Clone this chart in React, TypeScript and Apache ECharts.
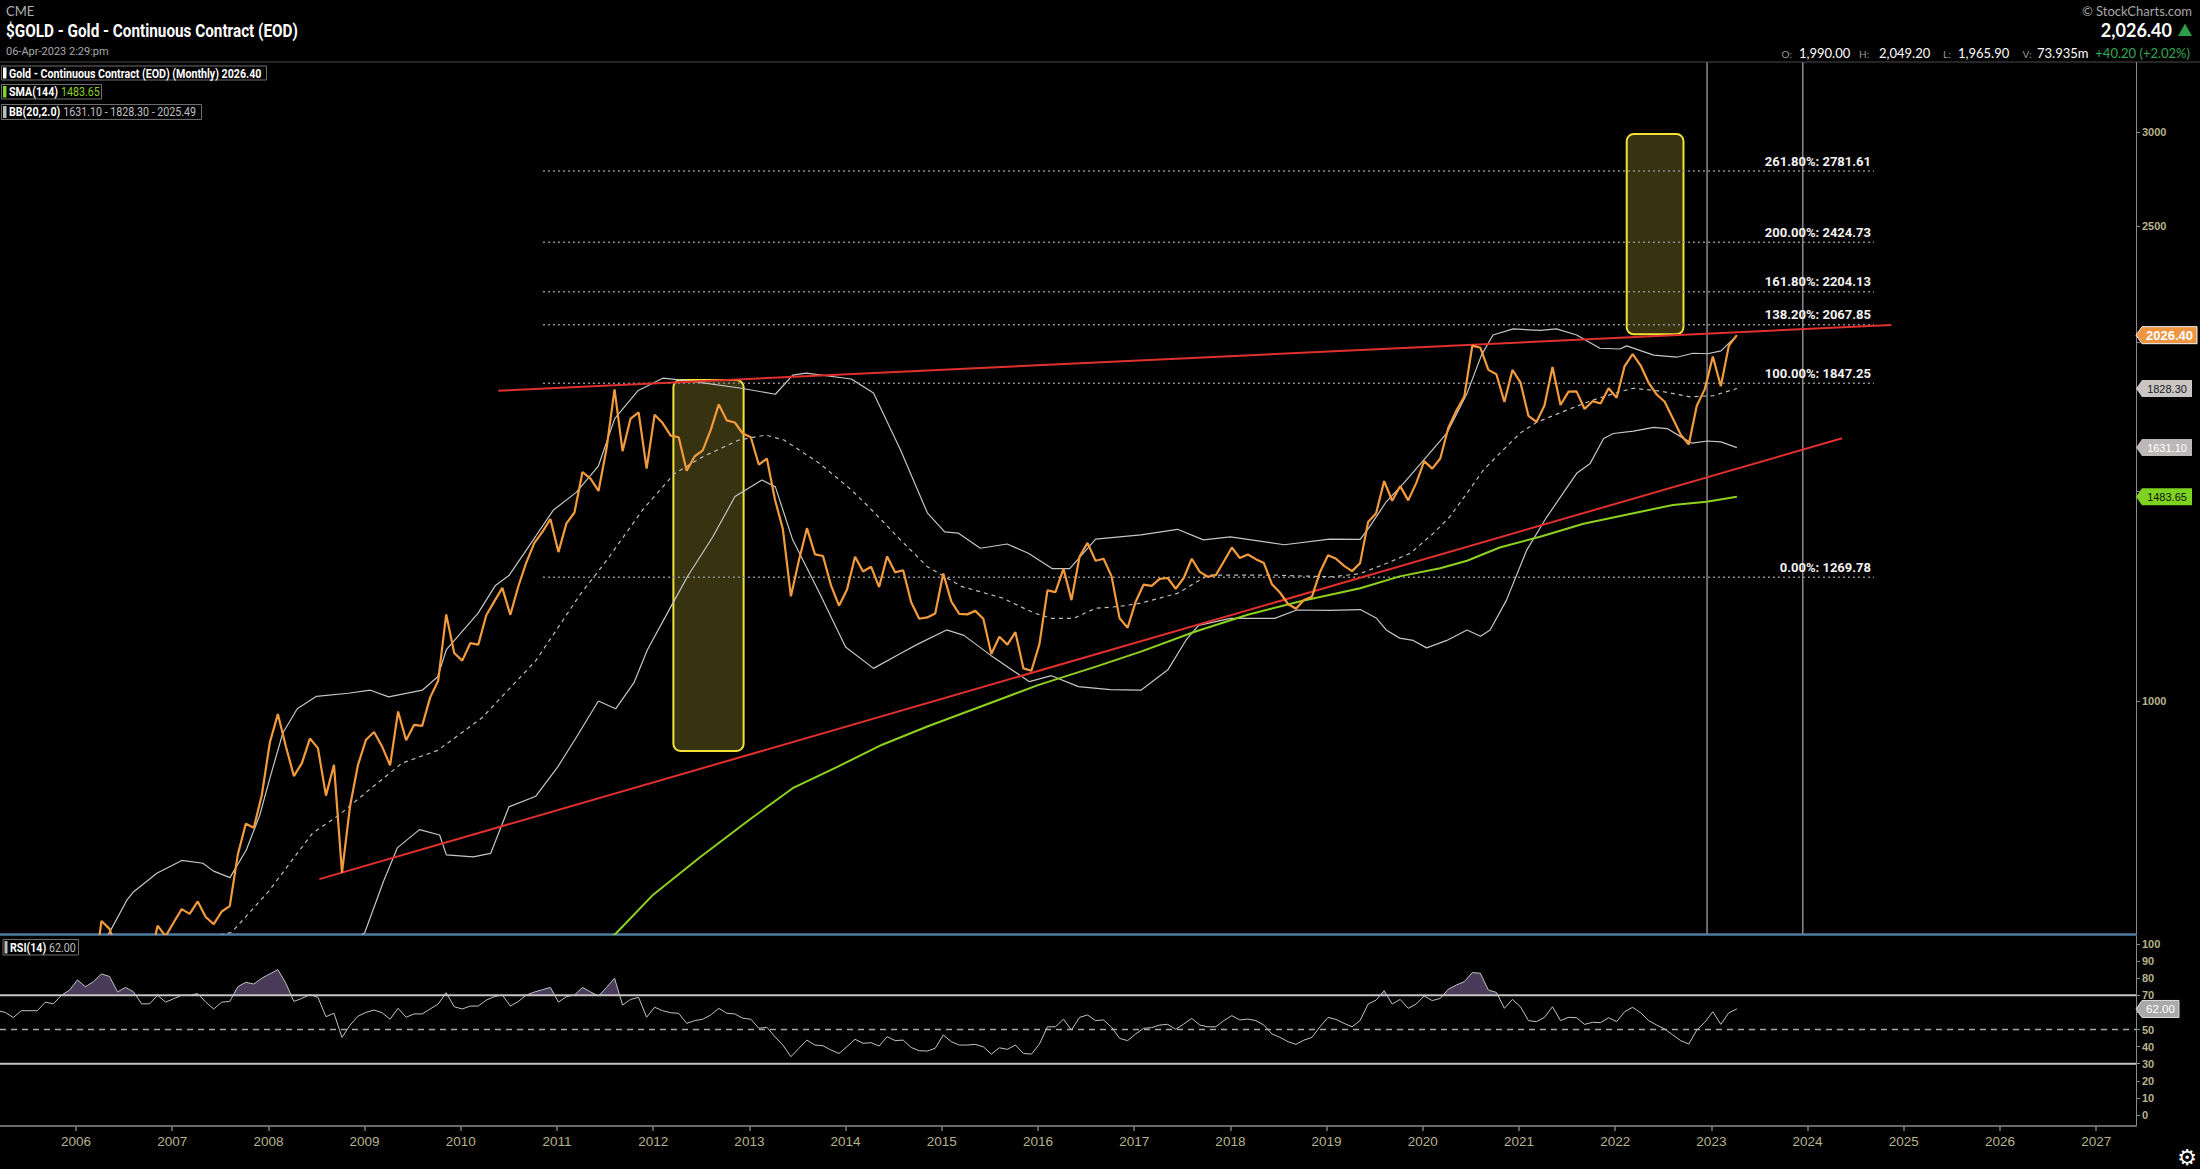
import React, { useEffect, useRef } from "react";
import * as echarts from "echarts";

// ---------- DATA (monthly, first point = March 2005) ----------
const FIRST_YEAR = 2005;
const FIRST_MONTH_INDEX = 2; // March
const MONTH_POINT_OFFSET = 0.015;

const GOLD_CLOSE = [
  // 2005 (Mar-Dec)
  429, 435, 417, 437, 429, 433, 473, 470, 495, 517,
  // 2006
  569, 556, 584, 654, 644, 616, 633, 624, 599, 604, 648, 635,
  // 2007
  652, 669, 663, 679, 659, 650, 666, 673, 743, 789, 783, 834,
  // 2008
  923, 975, 916, 865, 887, 930, 913, 833, 884, 718, 816, 884,
  // 2009
  928, 942, 916, 883, 980, 927, 955, 953, 1007, 1040, 1182, 1097,
  // 2010
  1081, 1118, 1115, 1180, 1212, 1244, 1181, 1248, 1307, 1357, 1386, 1421,
  // 2011
  1333, 1409, 1439, 1556, 1536, 1500, 1628, 1825, 1620, 1725, 1746, 1566,
  // 2012
  1738, 1710, 1669, 1664, 1560, 1604, 1622, 1688, 1773, 1719, 1712, 1676,
  // 2013
  1664, 1578, 1597, 1476, 1393, 1224, 1312, 1396, 1327, 1323, 1250, 1202,
  // 2014
  1240, 1321, 1284, 1296, 1246, 1322, 1282, 1287, 1210, 1172, 1175, 1184,
  // 2015
  1279, 1212, 1183, 1182, 1190, 1172, 1095, 1132, 1115, 1142, 1065, 1060,
  // 2016
  1116, 1238, 1234, 1291, 1215, 1321, 1357, 1311, 1316, 1272, 1173, 1152,
  // 2017
  1211, 1252, 1249, 1266, 1268, 1242, 1268, 1316, 1283, 1271, 1275, 1309,
  // 2018
  1345, 1318, 1327, 1315, 1305, 1253, 1233, 1206, 1195, 1215, 1223, 1283,
  // 2019
  1325, 1316, 1298, 1285, 1305, 1413, 1437, 1529, 1472, 1514, 1473, 1523,
  // 2020
  1589, 1566, 1597, 1694, 1751, 1800, 1986, 1978, 1895, 1879, 1781, 1895,
  // 2021
  1850, 1734, 1714, 1769, 1906, 1771, 1817, 1818, 1757, 1784, 1776, 1829,
  // 2022
  1796, 1909, 1954, 1911, 1848, 1807, 1782, 1726, 1672, 1641, 1768, 1826,
  // 2023 (Jan-Apr)
  1945, 1836, 1986, 2026.4,
];

const RSI_14 = [
  // 2005 (Mar-Dec)
  61, 60, 57, 61, 61, 61, 66, 65, 70, 73,
  // 2006
  79, 75, 78, 82.5, 81, 72, 74.6, 72, 65, 65, 70, 66,
  // 2007
  68, 70, 70, 71, 66, 62, 66, 66.4, 75, 77.6, 76.6, 80,
  // 2008
  82.5, 85, 77, 66.4, 68.2, 70.4, 68.8, 57.5, 59.5, 45.4, 52.5, 57.8,
  // 2009
  60, 61.4, 59.8, 56, 62.4, 57.2, 59.1, 59.1, 62, 64.9, 71.5, 63.3,
  // 2010
  62, 63.7, 63.7, 67.2, 69.2, 70.2, 63.7, 66.4, 70.2, 71.9, 73.3, 74.6,
  // 2011
  66, 69.2, 70.2, 74.6, 72, 69.6, 74.6, 80, 64.3, 67.6, 68.8, 57.2,
  // 2012
  63, 61, 59.8, 59.5, 53.6, 55.2, 56, 58.5, 62.4, 59.5, 59.1, 56.6,
  // 2013
  56, 50.7, 51.3, 45.8, 40.9, 34.1, 39, 43.8, 40.9, 40.5, 38, 36,
  // 2014
  40, 44.3, 41.9, 42.3, 40.3, 45.8, 43.5, 43.8, 39.5, 37.6, 37.4, 39,
  // 2015
  46.8, 42.9, 40.9, 40.9, 41.3, 39.9, 35.6, 39.3, 38.4, 40.9, 36, 35.6,
  // 2016
  41.5, 51.6, 51.6, 56, 49.7, 57.1, 58.5, 55.2, 55.6, 51.3, 44.8, 43.5,
  // 2017
  47.4, 50.7, 51.1, 52.6, 53, 50.1, 53.2, 56.5, 52.6, 51.6, 51.6, 55.2,
  // 2018
  58.1, 55.6, 56.1, 55.2, 52.6, 47.4, 45.4, 42.9, 41.3, 43.8, 45.4, 51.6,
  // 2019
  57.1, 55.9, 53.6, 51.6, 55.2, 64.9, 67.2, 72.7, 64.9, 67.6, 62.4, 64.9,
  // 2020
  69.6, 66.9, 68.2, 73.5, 76, 78, 83.3, 82.9, 73.1, 71.7, 62.4, 67.6,
  // 2021
  63.3, 55.2, 54.6, 57.1, 63.3, 55.2, 57.1, 56.9, 53, 54.2, 54, 56.9,
  // 2022
  54.6, 60.4, 63, 59.8, 55.2, 52.6, 50.3, 46.8, 43.5, 41.5, 49.7, 54.2,
  // 2023 (Jan-Apr)
  60.4, 53, 59.8, 62,
];

// Bollinger Bands (20, 2.0): [year, value]
const BB_UPPER = [
  [2006.0, 585], [2006.35, 640], [2006.53, 681], [2006.6, 692], [2006.84, 717], [2007.1, 735],
  [2007.32, 731], [2007.43, 720], [2007.6, 711], [2007.77, 750], [2007.91, 802], [2008.02, 864],
  [2008.15, 940], [2008.3, 985], [2008.5, 1009], [2008.83, 1015], [2009.06, 1021], [2009.25, 1008],
  [2009.6, 1021], [2009.76, 1048], [2009.85, 1104], [2010.18, 1185], [2010.36, 1250], [2010.5, 1274],
  [2010.78, 1375], [2010.96, 1445], [2011.2, 1496], [2011.43, 1574], [2011.6, 1725], [2011.84, 1820],
  [2012.1, 1865], [2012.3, 1858], [2012.52, 1848], [2012.9, 1830], [2013.27, 1808], [2013.45, 1876],
  [2013.59, 1883], [2014.06, 1862], [2014.29, 1812], [2014.57, 1624], [2014.85, 1438], [2015.03, 1386],
  [2015.17, 1383], [2015.4, 1343], [2015.68, 1354], [2015.9, 1330], [2016.15, 1291], [2016.33, 1291],
  [2016.6, 1367], [2017.07, 1378], [2017.45, 1393], [2017.72, 1365], [2018.0, 1373], [2018.56, 1352],
  [2019.03, 1367], [2019.35, 1366], [2019.45, 1401], [2019.62, 1469], [2019.8, 1522], [2020.04, 1603],
  [2020.25, 1677], [2020.46, 1811], [2020.61, 1950], [2020.73, 2027], [2020.94, 2051], [2021.22, 2045],
  [2021.39, 2051], [2021.6, 2027], [2021.84, 1976], [2022.05, 1973], [2022.12, 1985], [2022.4, 1950],
  [2022.64, 1942], [2022.81, 1957], [2022.96, 1955], [2023.1, 1966], [2023.265, 2025.49],
];

const BB_MIDDLE = [
  [2007.0, 630], [2007.5, 636], [2007.62, 640], [2008.0, 692], [2008.46, 775], [2008.74, 803],
  [2009.06, 844], [2009.39, 887], [2009.76, 909], [2010.22, 968], [2010.78, 1081], [2011.24, 1228],
  [2011.52, 1313], [2011.89, 1446], [2012.22, 1551], [2012.52, 1603], [2012.89, 1655], [2013.17, 1671],
  [2013.36, 1655], [2013.73, 1582], [2014.06, 1503], [2014.24, 1455], [2014.57, 1365], [2014.85, 1296],
  [2015.21, 1247], [2015.63, 1220], [2015.96, 1185], [2016.14, 1173], [2016.37, 1173], [2016.6, 1196],
  [2016.84, 1200], [2017.07, 1208], [2017.45, 1231], [2017.77, 1275], [2018.09, 1275], [2018.46, 1275],
  [2018.72, 1273], [2019.07, 1271], [2019.35, 1279], [2019.62, 1304], [2019.87, 1330], [2020.11, 1382],
  [2020.28, 1427], [2020.46, 1494], [2020.63, 1562], [2020.8, 1613], [2021.01, 1677], [2021.18, 1712],
  [2021.5, 1754], [2021.77, 1788], [2022.05, 1817], [2022.19, 1829], [2022.47, 1819], [2022.78, 1799],
  [2023.02, 1803], [2023.265, 1828.3],
];

const BB_LOWER = [
  [2008.5, 600], [2009.0, 639], [2009.2, 707], [2009.34, 753], [2009.57, 780], [2009.78, 772],
  [2009.85, 743], [2010.13, 740], [2010.31, 745], [2010.5, 815], [2010.78, 832], [2011.01, 881],
  [2011.2, 932], [2011.43, 1000], [2011.61, 985], [2011.8, 1036], [2011.94, 1104], [2012.17, 1194],
  [2012.36, 1273], [2012.62, 1373], [2012.85, 1484], [2013.13, 1532], [2013.27, 1512], [2013.45, 1365],
  [2013.73, 1231], [2014.0, 1110], [2014.29, 1065], [2014.57, 1096], [2014.75, 1116], [2015.05, 1147],
  [2015.23, 1135], [2015.51, 1092], [2015.91, 1038], [2016.14, 1050], [2016.42, 1028], [2016.75, 1022],
  [2017.07, 1021], [2017.35, 1062], [2017.54, 1125], [2017.67, 1157], [2018.0, 1173], [2018.46, 1173],
  [2018.69, 1192], [2019.03, 1191], [2019.35, 1193], [2019.52, 1173], [2019.62, 1147], [2019.76, 1129],
  [2019.9, 1124], [2020.04, 1108], [2020.25, 1124], [2020.46, 1147], [2020.6, 1133], [2020.7, 1147],
  [2020.87, 1215], [2021.08, 1338], [2021.29, 1427], [2021.6, 1552], [2021.74, 1582], [2021.88, 1660],
  [2021.98, 1676], [2022.19, 1684], [2022.4, 1696], [2022.54, 1692], [2022.68, 1666], [2022.8, 1645],
  [2022.96, 1652], [2023.1, 1649], [2023.265, 1631.1],
];

// SMA(144)
const SMA_144 = [
  [2011.3, 615], [2011.61, 638], [2012.0, 688], [2012.49, 740], [2013.0, 795], [2013.45, 845],
  [2013.92, 881], [2014.38, 919], [2014.85, 952], [2015.4, 989], [2016.0, 1031], [2016.61, 1069],
  [2017.07, 1100], [2017.63, 1143], [2018.18, 1181], [2018.74, 1213], [2019.35, 1243], [2019.76, 1272],
  [2020.18, 1292], [2020.46, 1311], [2020.8, 1345], [2021.22, 1373], [2021.67, 1408], [2022.19, 1437],
  [2022.6, 1460], [2022.95, 1469], [2023.265, 1483.65],
];

// Annotations
const FIB_LABELS = ["261.80%", "200.00%", "161.80%", "138.20%", "100.00%", "0.00%"];
const FIB_VALUES = [2781.61, 2424.73, 2204.13, 2067.85, 1847.25, 1269.78];
const FIB_SPAN = [2010.854, 2024.69];
const TREND_UPPER = [[2010.39, 1820], [2024.87, 2067]];
const TREND_LOWER = [[2008.53, 709], [2024.36, 1661]];
const HIGHLIGHT_BOXES = [
  [2012.21, 908, 2012.94, 1858],
  [2022.12, 2030, 2022.71, 2988],
];
const VERTICAL_MARKERS = [2022.955, 2023.95];

// Axes
const YEAR_TICKS = [2006, 2007, 2008, 2009, 2010, 2011, 2012, 2013, 2014, 2015, 2016, 2017, 2018, 2019, 2020, 2021, 2022, 2023, 2024, 2025, 2026, 2027];
const PRICE_TICKS = [1000, 1500, 2000, 2500, 3000];
const PRICE_LABELS = [1000, 2500, 3000];
const RSI_TICKS = [0, 10, 20, 30, 40, 50, 60, 70, 80, 90, 100];
const RSI_LABELS = [0, 10, 20, 30, 40, 50, 70, 80, 90, 100];
const RSI_OVERBOUGHT = 70;
const RSI_LEVELS = [70, 50, 30];

// ---------- LAYOUT ----------
const W = 2200;
const H = 1169;
const PLOT_W = 2136;
const MAIN_TOP = 62;
const MAIN_H = 872;
const RSI_TOP = 936;
const RSI_H = 190;
const X_MIN = 2005.21;
const X_MAX = 2027.414;
const LOG_MIN = 2.8046;
const LOG_MAX = 3.5358;
const RSI_MIN = -6.43;
const RSI_MAX = 104.68;

const AXIS_TEXT = "#b5b38c";
const lg = (v: number) => Math.log10(v);
const monthX = (i: number) => FIRST_YEAR + (FIRST_MONTH_INDEX + i) / 12 + MONTH_POINT_OFFSET;
const logPairs = (arr: number[][]) => arr.map((p) => [p[0], lg(p[1])]);
const last = (arr: any[]) => arr[arr.length - 1];

function mainLine(name: string, data: number[][], lineStyle: any, z = 2): any {
  return {
    type: "line",
    name,
    xAxisIndex: 0,
    yAxisIndex: 0,
    showSymbol: false,
    symbol: "none",
    silent: true,
    clip: true,
    z,
    data,
    lineStyle,
  };
}

function rsiLine(name: string, data: number[][], lineStyle: any, z = 2): any {
  return {
    type: "line",
    name,
    xAxisIndex: 1,
    yAxisIndex: 1,
    showSymbol: false,
    symbol: "none",
    silent: true,
    clip: true,
    z,
    data,
    lineStyle,
  };
}

function buildOption(): any {
  const series: any[] = [];

  FIB_VALUES.forEach((v, i) => {
    series.push(
      mainLine(`Fib ${FIB_LABELS[i]}`, [[FIB_SPAN[0], lg(v)], [FIB_SPAN[1], lg(v)]], { color: "#8d8d8d", width: 1.5, type: [2, 3] }, 2)
    );
  });
  VERTICAL_MARKERS.forEach((x, i) => {
    series.push(mainLine(`Marker ${i + 1}`, [[x, LOG_MIN], [x, LOG_MAX]], { color: "#8a8a8a", width: 1.5 }, 3));
  });
  series.push(mainLine("BB upper", logPairs(BB_UPPER), { color: "#c6c6c6", width: 1.2 }, 4));
  series.push(mainLine("BB middle", logPairs(BB_MIDDLE), { color: "#bdbdbd", width: 1.2, type: [4, 4] }, 4));
  series.push(mainLine("BB lower", logPairs(BB_LOWER), { color: "#c6c6c6", width: 1.2 }, 4));
  series.push(mainLine("SMA(144)", logPairs(SMA_144), { color: "#8fd11f", width: 2 }, 5));
  series.push(mainLine("Trend upper", logPairs(TREND_UPPER), { color: "#e0302e", width: 2 }, 6));
  series.push(mainLine("Trend lower", logPairs(TREND_LOWER), { color: "#e0302e", width: 2 }, 6));
  series.push(mainLine("Gold", GOLD_CLOSE.map((v, i) => [monthX(i), lg(v)]), { color: "#f29b3c", width: 2.2 }, 7));

  RSI_LEVELS.forEach((lvl) => {
    series.push(
      rsiLine(
        `RSI ${lvl}`,
        [[X_MIN, lvl], [X_MAX, lvl]],
        lvl === 50 ? { color: "#a8a8a8", width: 1.5, type: [6, 5] } : { color: "#c4c4c4", width: 2 },
        2
      )
    );
  });
  series.push(rsiLine("RSI(14)", RSI_14.map((v, i) => [monthX(i), v]), { color: "#c2c2c2", width: 1 }, 3));

  return {
    animation: false,
    backgroundColor: "#000000",
    textStyle: { fontFamily: "Liberation Sans" },
    grid: [
      { left: 0, top: MAIN_TOP, width: PLOT_W, height: MAIN_H },
      { left: 0, top: RSI_TOP, width: PLOT_W, height: RSI_H },
    ],
    xAxis: [
      {
        type: "value",
        gridIndex: 0,
        min: X_MIN,
        max: X_MAX,
        axisLine: { show: true, onZero: false, lineStyle: { color: "#4d7ba3", width: 2.5 } },
        axisTick: { show: false },
        axisLabel: { show: false },
        splitLine: { show: false },
      },
      {
        type: "value",
        gridIndex: 1,
        min: X_MIN,
        max: X_MAX,
        axisLine: { show: true, onZero: false, lineStyle: { color: "#6a6a6a", width: 2 } },
        axisTick: { show: true, customValues: YEAR_TICKS, length: 5, lineStyle: { color: "#7a7a7a", width: 1.5 } },
        axisLabel: {
          show: true,
          customValues: YEAR_TICKS,
          color: AXIS_TEXT,
          fontSize: 13.5,
          fontFamily: "Liberation Sans",
          margin: 8,
          formatter: (v: number) => String(Math.round(v)),
        },
        splitLine: { show: false },
      },
    ],
    yAxis: [
      {
        type: "value",
        gridIndex: 0,
        position: "right",
        min: LOG_MIN,
        max: LOG_MAX,
        axisLine: { show: true, onZero: false, lineStyle: { color: "#8a8a8a", width: 1 } },
        axisTick: { show: true, customValues: PRICE_TICKS.map(lg), length: 4, lineStyle: { color: "#8a8a8a" } },
        axisLabel: {
          show: true,
          customValues: PRICE_LABELS.map(lg),
          color: AXIS_TEXT,
          fontSize: 11,
          fontWeight: "bold",
          fontFamily: "Liberation Sans",
          margin: 6,
          formatter: (v: number) => String(Math.round(Math.pow(10, v))),
        },
        splitLine: { show: false },
      },
      {
        type: "value",
        gridIndex: 1,
        position: "right",
        min: RSI_MIN,
        max: RSI_MAX,
        axisLine: { show: true, onZero: false, lineStyle: { color: "#8a8a8a", width: 1 } },
        axisTick: { show: true, customValues: RSI_TICKS, length: 4, lineStyle: { color: "#8a8a8a" } },
        axisLabel: {
          show: true,
          customValues: RSI_LABELS,
          color: AXIS_TEXT,
          fontSize: 11,
          fontWeight: "bold",
          fontFamily: "Liberation Sans",
          margin: 6,
          formatter: (v: number) => String(Math.round(v)),
        },
        splitLine: { show: false },
      },
    ],
    series,
  };
}

function txt(x: number, y: number, text: string, font: string, fill: string, opts: any = {}) {
  return {
    type: "text",
    x,
    y,
    scaleX: opts.scaleX ?? 1,
    silent: true,
    z: 100,
    style: {
      text,
      font,
      fill,
      textAlign: opts.align ?? "left",
      textVerticalAlign: "middle",
    },
  };
}

function rect(x: number, y: number, w: number, h: number, fill: string, stroke?: string, z = 99) {
  return {
    type: "rect",
    silent: true,
    z,
    shape: { x, y, width: w, height: h },
    style: stroke ? { fill, stroke, lineWidth: 1 } : { fill },
  };
}

function tag(x0: number, y: number, w: number, label: string, fill: string, textFill: string, font: string, stroke?: string) {
  return {
    type: "group",
    silent: true,
    children: [
      {
        type: "polygon",
        z: 110,
        shape: {
          points: [
            [x0, y],
            [x0 + 6, y - 8.5],
            [x0 + w, y - 8.5],
            [x0 + w, y + 8.5],
            [x0 + 6, y + 8.5],
          ],
        },
        style: stroke ? { fill, stroke, lineWidth: 1 } : { fill },
      },
      {
        type: "text",
        z: 111,
        x: x0 + 6 + (w - 6) / 2,
        y: y + 0.5,
        style: { text: label, font, fill: textFill, textAlign: "center", textVerticalAlign: "middle" },
      },
    ],
  };
}

// Polygons of the RSI line where it runs above the overbought level (clipped at the level line)
function overboughtPolygons(toRsi: (x: number, v: number) => number[]) {
  const polys: number[][][] = [];
  const lvl = RSI_OVERBOUGHT;
  let cur: number[][] | null = null;
  for (let i = 0; i < RSI_14.length; i++) {
    const v = RSI_14[i];
    const x = monthX(i);
    if (v > lvl) {
      if (!cur) {
        cur = [];
        if (i > 0) {
          const pv = RSI_14[i - 1];
          const px = monthX(i - 1);
          const t = (lvl - pv) / (v - pv);
          cur.push([px + t * (x - px), lvl]);
        } else {
          cur.push([x, lvl]);
        }
      }
      cur.push([x, v]);
    } else if (cur) {
      const pv = RSI_14[i - 1];
      const px = monthX(i - 1);
      const t = (pv - lvl) / (pv - v);
      cur.push([px + t * (x - px), lvl]);
      polys.push(cur);
      cur = null;
    }
  }
  if (cur) {
    const lx = cur[cur.length - 1][0];
    cur.push([lx, lvl]);
    polys.push(cur);
  }
  return polys.map((p) => ({
    type: "polygon",
    silent: true,
    z: 0,
    shape: { points: p.map((q) => toRsi(q[0], q[1])) },
    style: { fill: "#4a3b5a" },
  }));
}

function buildGraphics(toMain: (x: number, v: number) => number[], toRsi: (x: number, v: number) => number[]) {
  const COND = 0.89;
  const g: any[] = [];

  // highlight boxes (behind the lines)
  HIGHLIGHT_BOXES.forEach((b) => {
    const p1 = toMain(b[0], b[3]);
    const p2 = toMain(b[2], b[1]);
    g.push({
      type: "rect",
      silent: true,
      z: 0,
      shape: { x: p1[0], y: p1[1], width: p2[0] - p1[0], height: p2[1] - p1[1], r: 7 },
      style: { fill: "#37320f", stroke: "#f2e236", lineWidth: 2 },
    });
  });

  // RSI overbought shading
  g.push(...overboughtPolygons(toRsi));

  // header
  g.push({ type: "line", silent: true, z: 50, shape: { x1: 0, y1: 62, x2: W, y2: 62 }, style: { stroke: "#4a4a4a", lineWidth: 1 } });
  g.push(txt(6, 11, "CME", "13px Lato", "#b0b0b0"));
  g.push(txt(6, 31, "$GOLD - Gold - Continuous Contract (EOD)", "bold 18px Roboto", "#ffffff", { scaleX: 0.85 }));
  g.push(txt(6, 51, "06-Apr-2023 2:29:pm", "11px Roboto", "#a8a8a8"));

  g.push(txt(2192, 11, "© StockCharts.com", "13px Lato", "#a8a8a8", { align: "right" }));
  g.push(txt(2172, 30, "2,026.40", "bold 18px Lato", "#ffffff", { align: "right" }));
  g.push({ type: "polygon", silent: true, z: 100, shape: { points: [[2178, 36], [2185, 23.5], [2192, 36]] }, style: { fill: "#2f9e4a" } });

  const ohlcY = 52.5;
  g.push(txt(1781.5, ohlcY + 1, "O:", "10px Lato", "#9a9a9a"));
  g.push(txt(1799, ohlcY, "1,990.00", "13px Lato", "#ffffff"));
  g.push(txt(1859, ohlcY + 1, "H:", "10px Lato", "#9a9a9a"));
  g.push(txt(1879, ohlcY, "2,049.20", "13px Lato", "#ffffff"));
  g.push(txt(1943, ohlcY + 1, "L:", "10px Lato", "#9a9a9a"));
  g.push(txt(1958, ohlcY, "1,965.90", "13px Lato", "#ffffff"));
  g.push(txt(2022.5, ohlcY + 1, "V:", "10px Lato", "#9a9a9a"));
  g.push(txt(2037, ohlcY, "73.935m", "13px Lato", "#ffffff"));
  g.push(txt(2190, ohlcY, "+40.20 (+2.02%)", "13px Lato", "#34a853", { align: "right" }));

  // legends
  const lastPrice = last(GOLD_CLOSE).toFixed(2);
  const lastSma = last(SMA_144)[1].toFixed(2);
  const lastUp = last(BB_UPPER)[1].toFixed(2);
  const lastMid = last(BB_MIDDLE)[1].toFixed(2);
  const lastLow = last(BB_LOWER)[1].toFixed(2);
  const lastRsi = last(RSI_14).toFixed(2);

  g.push(rect(1.5, 66, 265, 14, "#000", "#6e6e6e"));
  g.push(rect(3, 67.5, 3.5, 11, "#ffffff"));
  g.push(txt(9, 73.3, `Gold - Continuous Contract (EOD) (Monthly) ${lastPrice}`, "bold 12px Roboto", "#ffffff", { scaleX: COND }));

  g.push(rect(1.5, 84.5, 100, 14.5, "#000", "#6e6e6e"));
  g.push(rect(3, 86, 3.5, 11.5, "#7ed321"));
  g.push(txt(9, 92, "SMA(144)", "bold 12px Roboto", "#ffffff", { scaleX: COND }));
  g.push(txt(61, 92, lastSma, "12px Roboto", "#8fd11f", { scaleX: COND }));

  g.push(rect(1.5, 104.5, 200, 15, "#000", "#6e6e6e"));
  g.push(rect(3, 106, 3.5, 12, "#bdbdbd"));
  g.push(txt(9, 112, "BB(20,2.0)", "bold 12px Roboto", "#ffffff", { scaleX: COND }));
  g.push(txt(63.3, 112, `${lastLow} - ${lastMid} - ${lastUp}`, "12px Roboto", "#c0c0c0", { scaleX: COND }));

  g.push(rect(3, 939.5, 75.5, 15.5, "#000", "#6e6e6e"));
  g.push(rect(4.5, 941, 3, 12.5, "#bdbdbd"));
  g.push(txt(10, 947.5, "RSI(14)", "bold 12px Roboto", "#ffffff", { scaleX: COND }));
  g.push(txt(49, 947.5, lastRsi, "12px Roboto", "#bdbdbd", { scaleX: COND }));

  // fib labels
  FIB_VALUES.forEach((v, i) => {
    const p = toMain(FIB_SPAN[1], v);
    g.push(txt(p[0] - 3, p[1] - 10, `${FIB_LABELS[i]}: ${v.toFixed(2)}`, "bold 13px Roboto", "#f2f2f2", { align: "right" }));
  });

  // price tags
  const pPrice = toMain(X_MAX, last(GOLD_CLOSE));
  const pMid = toMain(X_MAX, last(BB_MIDDLE)[1]);
  const pLow = toMain(X_MAX, last(BB_LOWER)[1]);
  const pSma = toMain(X_MAX, last(SMA_144)[1]);
  const pRsi = toRsi(X_MAX, last(RSI_14));
  g.push(tag(pMid[0], pMid[1], 56, lastMid, "#c9c5c5", "#1a1a1a", '11px "Liberation Sans"'));
  g.push(tag(pLow[0], pLow[1], 56, lastLow, "#bcb8b8", "#ffffff", '11px "Liberation Sans"'));
  g.push(tag(pSma[0], pSma[1], 56, lastSma, "#7ed321", "#111111", '11px "Liberation Sans"'));
  g.push(tag(pPrice[0], pPrice[1], 61, lastPrice, "#ee9541", "#ffffff", 'bold 13px "Liberation Sans"', "#f4f4f4"));
  g.push(tag(pRsi[0], pRsi[1], 43, lastRsi, "#a9a9a9", "#ffffff", '11.5px "Liberation Sans"', "#dddddd"));

  // settings gear
  g.push(txt(2187, 1157, "⚙", '22px "DejaVu Sans"', "#ffffff", { align: "center" }));

  return g;
}

export default function App() {
  const ref = useRef<HTMLDivElement>(null);

  useEffect(() => {
    const el = ref.current;
    if (!el) return;
    const chart = echarts.init(el, null, { renderer: "svg", width: W, height: H });
    try {
      chart.setOption(buildOption());
    } catch (e: any) {
      console.error("option error", e && e.stack);
    }
    try {
      const toMain = (x: number, v: number) => chart.convertToPixel({ xAxisIndex: 0, yAxisIndex: 0 }, [x, lg(v)]) as number[];
      const toRsi = (x: number, v: number) => chart.convertToPixel({ xAxisIndex: 1, yAxisIndex: 1 }, [x, v]) as number[];
      chart.setOption({ graphic: buildGraphics(toMain, toRsi) });
    } catch (e: any) {
      console.error("graphic error", e && e.stack);
    }
    return () => {
      chart.dispose();
    };
  }, []);

  return (
    <div
      ref={ref}
      style={{ position: "fixed", left: 0, top: 0, width: W + "px", height: H + "px", background: "#000", overflow: "hidden" }}
    />
  );
}
